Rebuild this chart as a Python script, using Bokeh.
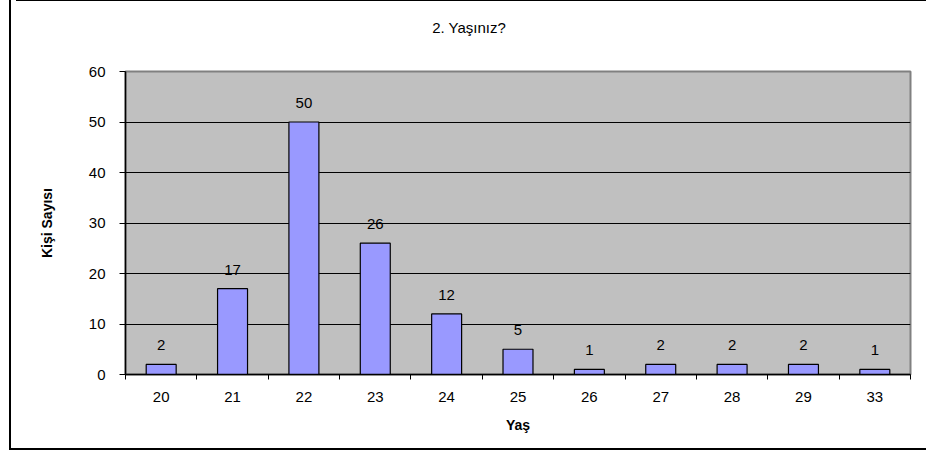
from bokeh.plotting import figure
from bokeh.models import FixedTicker, ColumnDataSource, LabelSet, Range1d, Div
from bokeh.layouts import column
from bokeh.core.properties import value
from bokeh.embed import file_html
from bokeh.resources import INLINE

title_text = "2. Yaşınız?"
ages = ["20", "21", "22", "23", "24", "25", "26", "27", "28", "29", "33"]
counts = [2, 17, 50, 26, 12, 5, 1, 2, 2, 2, 1]
y_ticks = [0, 10, 20, 30, 40, 50, 60]

FONT = "Liberation Sans"
n = len(ages)
xs = [i + 0.5 for i in range(n)]

src = ColumnDataSource(dict(x=xs, top=counts, lab=[str(c) for c in counts]))

p = figure(width=914, height=396, output_backend="svg", toolbar_location=None,
           x_range=Range1d(0, n), y_range=Range1d(0, 60),
           frame_width=785, frame_height=303,
           min_border_left=114, min_border_right=15, min_border_top=19, min_border_bottom=74,
           background_fill_color="#C0C0C0", border_fill_color="white")
p.title.visible = False

p.vbar(x="x", top="top", width=0.42, source=src, fill_color="#9999FF",
       line_color="black", line_width=1.2)

p.add_layout(LabelSet(x="x", y="top", text="lab", source=src, y_offset=19,
                      text_align="center", text_baseline="middle",
                      text_font=value(FONT), text_font_size=value("15px"),
                      text_color="black"))

p.outline_line_color = "#808080"
p.outline_line_width = 2

# x axis
xa = p.xaxis[0]
xa.ticker = FixedTicker(ticks=xs, minor_ticks=list(range(n + 1)))
xa.major_label_overrides = {x: a for x, a in zip(xs, ages)}
xa.major_tick_out = 0
xa.major_tick_in = 0
xa.minor_tick_out = 5
xa.minor_tick_in = 0
xa.minor_tick_line_color = "black"
xa.axis_line_color = "black"
xa.axis_line_width = 1.5
xa.major_label_standoff = 12
xa.major_label_text_font = FONT
xa.major_label_text_font_size = "15px"
xa.major_label_text_color = "black"
xa.axis_label = "Yaş"
xa.axis_label_text_font = FONT
xa.axis_label_text_font_style = "bold"
xa.axis_label_text_font_size = "14px"
xa.axis_label_text_color = "black"
xa.axis_label_standoff = 12

# y axis
ya = p.yaxis[0]
ya.ticker = FixedTicker(ticks=y_ticks, minor_ticks=[])
ya.major_tick_out = 6
ya.major_tick_in = 0
ya.major_tick_line_color = "black"
ya.axis_line_color = "black"
ya.axis_line_width = 1.5
ya.major_label_standoff = 14
ya.major_label_text_font = FONT
ya.major_label_text_font_size = "15px"
ya.major_label_text_color = "black"
ya.axis_label = "Kişi Sayısı"
ya.axis_label_text_font = FONT
ya.axis_label_text_font_style = "bold"
ya.axis_label_text_font_size = "14px"
ya.axis_label_text_color = "black"
ya.axis_label_standoff = 31

p.xgrid.visible = False
p.ygrid.ticker = FixedTicker(ticks=[10, 20, 30, 40, 50])
p.ygrid.grid_line_color = "black"
p.ygrid.grid_line_width = 1

title = Div(text=title_text, width=914, height=48,
            styles={"text-align": "center", "font-family": FONT, "font-size": "15px",
                    "color": "black", "padding-top": "16px", "padding-right": "8px",
                    "border-top": "2px solid black", "box-sizing": "border-box"})

layout = column(title, p, spacing=0,
                styles={"margin-left": "9px", "margin-top": "-6px",
                        "border-left": "2px solid black",
                        "border-bottom": "2px solid black"})

open("out.html", "w").write(file_html(layout, INLINE))
